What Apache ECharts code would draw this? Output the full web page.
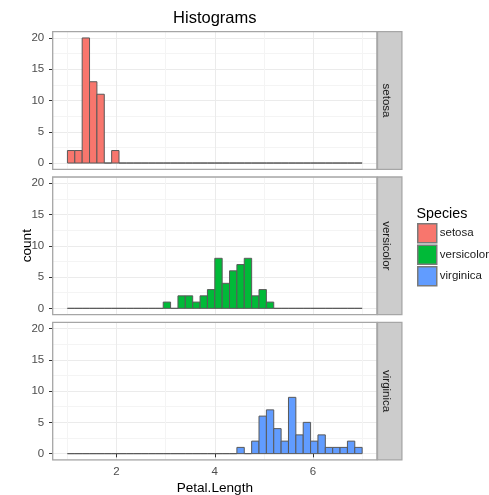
<!DOCTYPE html>
<html><head><meta charset="utf-8">
<script src="https://cdn.jsdelivr.net/npm/echarts@6/dist/echarts.min.js"></script>
<style>html,body{margin:0;padding:0;background:#fff}#c{width:489px;height:495px}</style>
</head><body><div id="c"></div>
<script>
// ---- data ----
const species = ['setosa', 'versicolor', 'virginica'];
const binEdges = [1.00,1.15,1.30,1.45,1.60,1.75,1.90,2.05,2.20,2.35,2.50,2.65,2.80,2.95,3.10,3.25,3.40,3.55,3.70,3.85,
  4.00,4.15,4.30,4.45,4.60,4.75,4.90,5.05,5.20,5.35,5.50,5.65,5.80,5.95,6.10,6.25,6.40,6.55,6.70,6.85,7.00];
const setosaCounts     = [2,2,20,13,11,0,2,0,0,0, 0,0,0,0,0,0,0,0,0,0, 0,0,0,0,0,0,0,0,0,0, 0,0,0,0,0,0,0,0,0,0];
const versicolorCounts = [0,0,0,0,0,0,0,0,0,0, 0,0,0,1,0,2,2,1,2,3, 8,4,6,7,8,2,3,1,0,0, 0,0,0,0,0,0,0,0,0,0];
const virginicaCounts  = [0,0,0,0,0,0,0,0,0,0, 0,0,0,0,0,0,0,0,0,0, 0,0,0,1,0,2,6,7,4,2, 9,3,5,2,3,1,1,1,2,1];
const xTicks = [2, 4, 6];
const yTicks = [0, 5, 10, 15, 20];

// ---- style / layout ----
const colors = ['#F8766D', '#00BA38', '#619CFF'];
const countsBySpecies = [setosaCounts, versicolorCounts, virginicaCounts];
const FONT = '"Liberation Sans", Arial, sans-serif';
const PANEL_LEFT = 52.7, PANEL_W = 324.2, PANEL_H = 137.6;
const PANEL_TOPS = [31.7, 177.0, 322.3];
const STRIP_W = 24.4;
const X_MIN = 0.7, X_MAX = 7.3, Y_MIN = -1, Y_MAX = 21;

const grids = [], xAxes = [], yAxes = [], series = [], graphics = [];
PANEL_TOPS.forEach((top, p) => {
  grids.push({left: PANEL_LEFT, top: top, width: PANEL_W, height: PANEL_H, containLabel: false});
  // minor grid axes
  xAxes.push({gridIndex: p, type: 'value', position: 'bottom', min: X_MIN, max: X_MAX, minInterval: 1, maxInterval: 1,
    axisLine: {show: false}, axisTick: {show: false}, axisLabel: {show: false},
    splitLine: {show: true, lineStyle: {color: '#F4F4F4', width: 1}}});
  // major axes
  xAxes.push({gridIndex: p, type: 'value', position: 'bottom', min: X_MIN, max: X_MAX, minInterval: 2, maxInterval: 2,
    axisLine: {show: false},
    axisTick: {show: p === 2, customValues: xTicks, length: 3.7, lineStyle: {color: '#333333', width: 1}},
    axisLabel: {show: p === 2, customValues: xTicks, margin: 6, fontSize: 11.5, color: '#4D4D4D', fontFamily: FONT,
      formatter: v => xTicks.includes(v) ? String(v) : ''},
    splitLine: {show: true, lineStyle: {color: '#EBEBEB', width: 1}}});
  yAxes.push({gridIndex: p, type: 'value', position: 'left', min: Y_MIN, max: Y_MAX, minInterval: 2.5, maxInterval: 2.5,
    axisLine: {show: false}, axisTick: {show: false}, axisLabel: {show: false},
    splitLine: {show: true, lineStyle: {color: '#F4F4F4', width: 1}}});
  yAxes.push({gridIndex: p, type: 'value', position: 'left', min: Y_MIN, max: Y_MAX, minInterval: 5, maxInterval: 5,
    axisLine: {show: false},
    axisTick: {show: true, customValues: yTicks, length: 3.7, lineStyle: {color: '#333333', width: 1}},
    axisLabel: {show: true, customValues: yTicks, margin: 8.5, fontSize: 11.5, color: '#4D4D4D', fontFamily: FONT,
      formatter: v => yTicks.includes(v) ? String(v) : ''},
    splitLine: {show: true, lineStyle: {color: '#EBEBEB', width: 1}}});

  const counts = countsBySpecies[p];
  series.push({
    type: 'custom', name: species[p], xAxisIndex: 2 * p + 1, yAxisIndex: 2 * p + 1,
    itemStyle: {color: colors[p]},
    encode: {x: [0, 1], y: 2},
    data: counts.map((c, i) => [binEdges[i], binEdges[i + 1], c]),
    renderItem: (params, api) => {
      const tl = api.coord([api.value(0), api.value(2)]);
      const br = api.coord([api.value(1), 0]);
      return {type: 'rect', shape: {x: tl[0], y: tl[1], width: br[0] - tl[0], height: br[1] - tl[1]},
        style: {fill: colors[p], stroke: '#595959', lineWidth: 1}};
    }
  });

  graphics.push({type: 'rect', z: 100, silent: true,
    shape: {x: PANEL_LEFT, y: top, width: PANEL_W, height: PANEL_H},
    style: {fill: 'none', stroke: '#A6A6A6', lineWidth: 1.3}});
  graphics.push({type: 'rect', z: 100, silent: true,
    shape: {x: PANEL_LEFT + PANEL_W + 0.6, y: top, width: STRIP_W, height: PANEL_H},
    style: {fill: '#CCCCCC', stroke: '#A6A6A6', lineWidth: 1.3}});
  graphics.push({type: 'text', z: 101, silent: true,
    x: 386, y: top + PANEL_H / 2, rotation: -Math.PI / 2,
    style: {text: species[p], fontSize: 11.5, fontFamily: FONT, fill: '#1A1A1A', align: 'center', verticalAlign: 'middle'}});
});

graphics.push({type: 'text', silent: true, x: 214.8, y: 18, style: {text: 'Histograms', fontSize: 16.5, fontFamily: FONT, fill: '#000', align: 'center', verticalAlign: 'middle'}});
graphics.push({type: 'text', silent: true, x: 27, y: 245.7, rotation: Math.PI / 2, style: {text: 'count', fontSize: 13.6, fontFamily: FONT, fill: '#000', align: 'center', verticalAlign: 'middle'}});
graphics.push({type: 'text', silent: true, x: 214.8, y: 488.5, style: {text: 'Petal.Length', fontSize: 13.6, fontFamily: FONT, fill: '#000', align: 'center', verticalAlign: 'middle'}});
graphics.push({type: 'text', silent: true, x: 416.5, y: 214.5, style: {text: 'Species', fontSize: 14.3, fontFamily: FONT, fill: '#000', align: 'left', verticalAlign: 'middle'}});

const chart = echarts.init(document.getElementById('c'), null, {renderer: 'canvas'});
chart.setOption({
  animation: false,
  backgroundColor: '#ffffff',
  grid: grids, xAxis: xAxes, yAxis: yAxes, series: series,
  legend: {data: species, orient: 'vertical', left: 417, top: 223, padding: 0,
    itemWidth: 19, itemHeight: 19, itemGap: 1, icon: 'rect', selectedMode: false,
    itemStyle: {borderColor: '#7A7A7A', borderWidth: 1.5},
    textStyle: {fontSize: 11.5, color: '#1A1A1A', fontFamily: FONT, padding: [0, 0, 0, -2]}},
  graphic: graphics
});
</script></body></html>
